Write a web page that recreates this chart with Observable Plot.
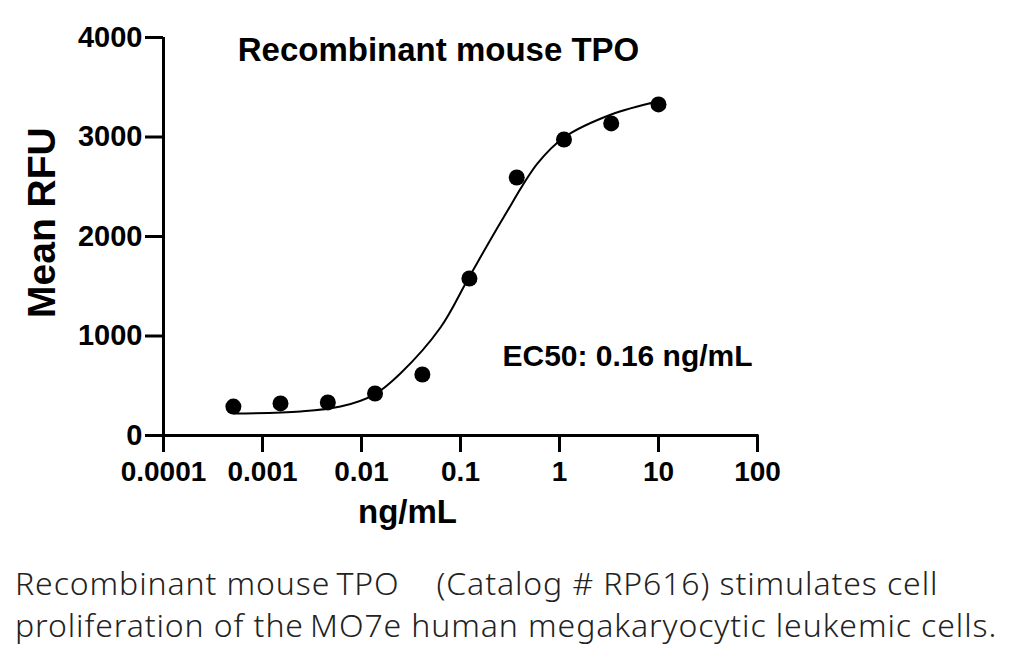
<!DOCTYPE html>
<html>
<head>
<meta charset="utf-8">
<script src="https://cdn.jsdelivr.net/npm/d3@7"></script>
<script src="https://cdn.jsdelivr.net/npm/@observablehq/plot@0.6"></script>
<style>
  html, body { margin: 0; padding: 0; background: #fff; }
  #caption {
    font-family: "Noto Sans", "Open Sans", sans-serif;
    font-weight: 300;
    font-size: 32px;
    line-height: 42px;
    color: #222;
    padding-left: 15px;
    padding-top: 22px;
    white-space: nowrap;
    letter-spacing: 0.9px;
  }
</style>
</head>
<body>
<div id="chart"></div>
<div id="caption"></div>
<script>
// Measured data points (concentration in ng/mL, Mean RFU)
const concentration = [0.000508, 0.00152, 0.00457, 0.0137, 0.0412, 0.123, 0.370, 1.11, 3.33, 10];
const meanRFU = [291, 322, 332, 422, 613, 1578, 2593, 2975, 3136, 3327];

// Fitted curve
const fitConcentration = [0.00051, 0.00242, 0.00613, 0.0135, 0.0247, 0.0628, 0.120, 0.272, 0.600, 1.11, 3.33, 9.8];
const fitRFU = [221, 241, 291, 412, 623, 1085, 1578, 2191, 2734, 2995, 3226, 3357];

// Ticks
const xTicks = [0.0001, 0.001, 0.01, 0.1, 1, 10, 100];
const xTickLabels = ["0.0001", "0.001", "0.01", "0.1", "1", "10", "100"];
const yTicks = [0, 1000, 2000, 3000, 4000];
const yTickLabels = ["0", "1000", "2000", "3000", "4000"];

const titleText = "Recombinant mouse TPO";
const ec50Text = "EC50: 0.16 ng/mL";
const xLabel = "ng/mL";
const yLabel = "Mean RFU";
const captionLines = [
  "Recombinant mouse\u2009TPO\u00A0\u00A0\u00A0\u00A0(Catalog # RP616) stimulates cell",
  "proliferation of the\u2009MO7e human megakaryocytic leukemic cells."
];

const points = concentration.map((c, i) => ({x: c, y: meanRFU[i]}));
const fit = fitConcentration.map((c, i) => ({x: c, y: fitRFU[i]}));
const xMap = new Map(xTicks.map((t, i) => [t, xTickLabels[i]]));
const yMap = new Map(yTicks.map((t, i) => [t, yTickLabels[i]]));

const chart = Plot.plot({
  width: 1024,
  height: 540,
  marginLeft: 163,
  marginRight: 267,
  marginTop: 37,
  marginBottom: 105,
  x: {type: "log", domain: [1e-4, 100]},
  y: {domain: [0, 4000]},
  style: {fontFamily: "'Liberation Sans', Arial, sans-serif", fontWeight: "bold", color: "#000", background: "#fff", overflow: "visible"},
  marks: [
    Plot.axisY({ticks: yTicks, tickFormat: d => yMap.get(d), tickSize: 18, tickPadding: 3, strokeWidth: 3, fontSize: 29, label: null}),
    Plot.axisX({ticks: xTicks, tickFormat: d => xMap.get(d), tickSize: 17, tickPadding: 9, strokeWidth: 3, fontSize: 28, label: null}),
    Plot.ruleY([0], {x1: 1e-4, x2: 100, strokeWidth: 3, strokeLinecap: "square"}),
    Plot.ruleX([1e-4], {y1: 0, y2: 4000, strokeWidth: 3}),
    Plot.line(fit, {x: "x", y: "y", curve: "catmull-rom", strokeWidth: 2, stroke: "#000"}),
    Plot.dot(points, {x: "x", y: "y", r: 8, fill: "#000", stroke: null}),
    Plot.text([titleText], {frameAnchor: "top-left", dx: 275, dy: 0, text: d => d, fontSize: 33, textAnchor: "middle", fill: "#000"}),
    Plot.text([ec50Text], {frameAnchor: "bottom-left", dx: 339, dy: -70, text: d => d, fontSize: 30, textAnchor: "start", fill: "#000"}),
    Plot.text([xLabel], {frameAnchor: "bottom", dx: -53, dy: 87, text: d => d, fontSize: 33, fill: "#000"}),
    Plot.text([yLabel], {x: 6.0e-6, y: 2140, rotate: -90, text: d => d, fontSize: 39, fill: "#000"})
  ]
});
document.getElementById("chart").append(chart);
document.getElementById("caption").innerHTML = captionLines.join("<br>");
</script>
</body>
</html>
